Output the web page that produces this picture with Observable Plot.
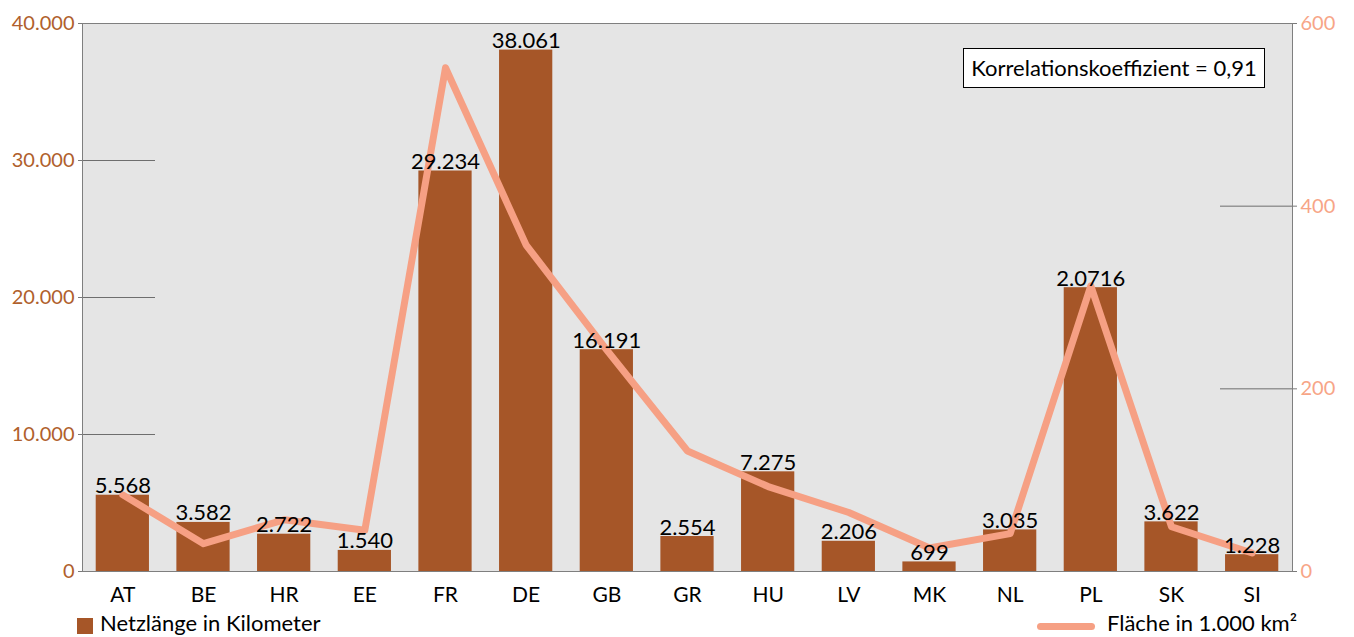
<!DOCTYPE html>
<html><head><meta charset="utf-8">
<script src="https://cdn.jsdelivr.net/npm/d3@7"></script>
<script src="https://cdn.jsdelivr.net/npm/@observablehq/plot@0.6"></script>
<style>
body{margin:0;background:#fff;font-family:Lato,sans-serif;}
#wrap{position:relative;width:1354px;height:637px;overflow:hidden;}
#chart{position:absolute;left:0;top:0;}
#box{position:absolute;left:963px;top:48px;width:300px;height:38px;border:1px solid #000;background:#fff;
 font-size:22px;line-height:38px;text-align:center;color:#000;white-space:nowrap;}
.leg{position:absolute;top:610px;font-size:22px;line-height:26px;height:26px;color:#000;white-space:nowrap;}
.sw{position:absolute;}
</style></head><body>
<div id="wrap">
<div id="chart"></div>
<div id="box">Korrelationskoeffizient = 0,91</div>
<div class="sw" style="left:77px;top:618px;width:16px;height:16px;background:#a65628"></div>
<div class="leg" style="left:100px">Netzlänge in Kilometer</div>
<div class="sw" style="left:1037px;top:623px;width:58px;height:7px;border-radius:4px;background:#f6a084"></div>
<div class="leg" style="left:1107px">Fläche in 1.000 km²</div>
</div>
<script>
const countries = ["AT","BE","HR","EE","FR","DE","GB","GR","HU","LV","MK","NL","PL","SK","SI"];
const netzlaenge = [5568,3582,2722,1540,29234,38061,16191,2554,7275,2206,699,3035,20716,3622,1228];
const barLabels = ["5.568","3.582","2.722","1.540","29.234","38.061","16.191","2.554","7.275","2.206","699","3.035","2.0716","3.622","1.228"];
const flaeche = [83.9,30.5,56.6,45.2,551.5,357.4,242.5,132.0,93.0,64.6,25.7,41.5,312.7,49.0,20.3];
const leftTicks = [0,10000,20000,30000,40000];
const leftInnerTicks = [10000,20000,30000];
const rightTicks = [0,200,400,600];
const rightInnerTicks = [200,400];

const k = 40000/600;
const fmt = d => d3.format(",")(d).replace(/,/g,".");
const data = countries.map((c,i)=>({c, v:netzlaenge[i], lab:barLabels[i], f:flaeche[i]*k}));

const chart = Plot.plot({
  width:1354, height:610,
  marginTop:23, marginBottom:39, marginLeft:82, marginRight:62,
  style:{fontFamily:"Lato, sans-serif", fontSize:"20px", background:"transparent", overflow:"visible"},
  x:{domain:countries, paddingInner:0.34, paddingOuter:0.17, round:false, label:null},
  y:{domain:[0,40000], label:null},
  marks:[
    Plot.frame({fill:"#e5e5e5"}),
    Plot.ruleY(leftInnerTicks, {stroke:"#6e6e6e", insetRight:1137}),
    Plot.ruleY(rightInnerTicks.map(v=>v*k), {stroke:"#6e6e6e", insetLeft:1138}),
    Plot.barY(data, {x:"c", y:"v", fill:"#a65628"}),
    Plot.line(data, {x:"c", y:"f", stroke:"#f6a084", strokeWidth:7, strokeLinejoin:"round", strokeLinecap:"round"}),
    Plot.text(data, {x:"c", y:"v", text:"lab", lineAnchor:"bottom", dy:-2, fill:"#000", fontSize:22}),
    Plot.axisY({anchor:"left", ticks:leftTicks, tickSize:4, text:null, stroke:"#7a7a7a", label:null}),
    Plot.axisY({anchor:"left", ticks:leftTicks, tickSize:0, tickPadding:8, tickFormat:fmt, fill:"#b0602c", fontSize:20, label:null}),
    Plot.axisY({anchor:"right", ticks:rightTicks.map(v=>v*k), tickSize:4, text:null, stroke:"#7a7a7a", label:null}),
    Plot.axisY({anchor:"right", ticks:rightTicks.map(v=>v*k), tickSize:0, tickPadding:8, tickFormat:d=>Math.round(d/k), fill:"#f7a587", fontSize:20, label:null}),
    Plot.axisX({tickSize:0, tickPadding:16, fill:"#000", fontSize:21, label:null}),
    Plot.frame({stroke:"#7f7f7f"})
  ]
});
document.getElementById("chart").appendChild(chart);
</script>
</body></html>
